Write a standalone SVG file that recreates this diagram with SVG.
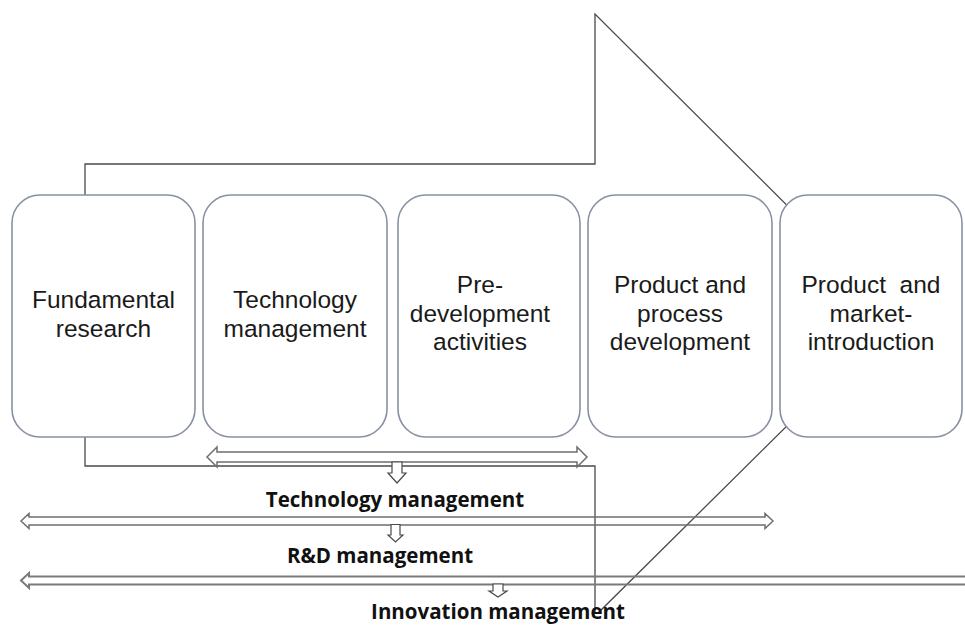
<svg xmlns="http://www.w3.org/2000/svg" width="965" height="625" viewBox="0 0 965 625">
  <style>
    .bg { fill: #ffffff; }
    .big { fill: none; stroke: #4a4a4a; stroke-width: 1.3; }
    .box { fill: #ffffff; stroke: #8791a3; stroke-width: 1.6; }
    .lbl { font-family: "Liberation Sans", Arial, sans-serif; font-size: 24.5px; fill: #1a1a1a; text-anchor: middle; }
    .dbl { fill: none; stroke: #6e6e6e; stroke-width: 1.5; }
    .dbl-wide { fill: none; stroke: #7a7a7a; stroke-width: 2; }
    .down { fill: #ffffff; stroke: #4a4a4a; stroke-width: 1.2; }
    .cap { font-family: "Open Sans", "Liberation Sans", sans-serif; font-size: 20.5px; font-weight: bold; fill: #111111; text-anchor: middle; }
  </style>
  <rect class="bg" x="0" y="0" width="965" height="625"/>

  <!-- large process arrow behind the stages -->
  <g id="process-arrow">
    <path class="big" d="M85,164 H595 V14 L898,316 L598,613 H595 V466 H85 Z"/>
  </g>

  <!-- stage boxes -->
  <g id="stage-fundamental">
    <rect class="box" x="12" y="195" width="183" height="242" rx="28"/>
    <text class="lbl" x="103.5" y="308">Fundamental</text>
    <text class="lbl" x="103.5" y="336.5">research</text>
  </g>
  <g id="stage-technology">
    <rect class="box" x="203" y="195" width="184" height="242" rx="28"/>
    <text class="lbl" x="295" y="308">Technology</text>
    <text class="lbl" x="295" y="336.5">management</text>
  </g>
  <g id="stage-predevelopment">
    <rect class="box" x="398" y="195" width="182" height="242" rx="28"/>
    <text class="lbl" x="480" y="293">Pre-</text>
    <text class="lbl" x="480" y="321.5">development</text>
    <text class="lbl" x="480" y="350">activities</text>
  </g>
  <g id="stage-product-process">
    <rect class="box" x="588" y="195" width="184" height="242" rx="28"/>
    <text class="lbl" x="680" y="293">Product and</text>
    <text class="lbl" x="680" y="321.5">process</text>
    <text class="lbl" x="680" y="350">development</text>
  </g>
  <g id="stage-market">
    <rect class="box" x="780" y="195" width="182" height="242" rx="28"/>
    <text class="lbl" x="871" y="293" xml:space="preserve">Product  and</text>
    <text class="lbl" x="871" y="321.5">market-</text>
    <text class="lbl" x="871" y="350">introduction</text>
  </g>

  <!-- scope arrows -->
  <g id="connectors">
    <!-- technology management span -->
    <path class="dbl" d="M207,457 L217,447 V452 H577 V447 L587,457 L577,467 V462 H217 V467 Z"/>
    <path class="down" d="M392,462 H402 V473 H406 L397,483 L388,473 H392 Z"/>
    <!-- R&D management span -->
    <path class="dbl" d="M21,521 L29,513.5 V517 H765 V513.5 L773,521 L765,528.5 V525 H29 V528.5 Z"/>
    <path class="down" d="M391,524.5 H400 V535 H403 L395.5,542 L388,535 H391 Z"/>
    <!-- innovation management span, running off the right edge -->
    <path class="dbl-wide" d="M975,576.5 H29 V573 L21,580.5 L29,588 V584.5 H975"/>
    <path class="down" d="M493,584 H503 V591 H507 L498,597 L489,591 H493 Z"/>
  </g>

  <g id="scope-labels">
    <text class="cap" x="395" y="507">Technology management</text>
    <text class="cap" x="380" y="563">R&amp;D management</text>
    <text class="cap" x="498" y="619">Innovation management</text>
  </g>
</svg>
